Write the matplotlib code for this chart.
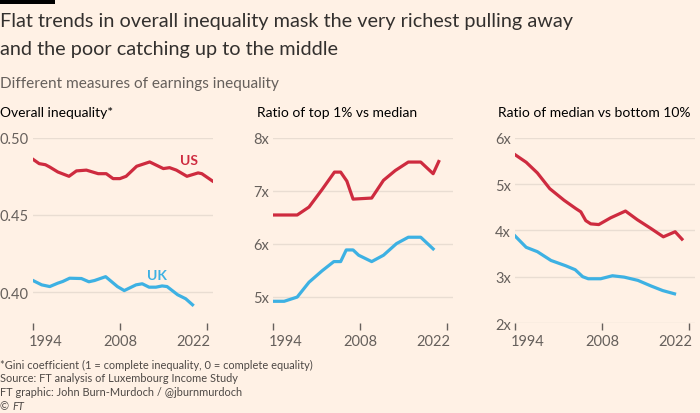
import matplotlib.pyplot as plt
from matplotlib.patches import Rectangle
from matplotlib.transforms import ScaledTranslation

# colours
bg = "#FFF1E5"
red = "#CE2B3F"
blue = "#3DB1E3"
grey = "#66605C"
gridc = "#E9DDD2"

plt.rcParams['font.family'] = ['Lato', 'DejaVu Sans']

# Overall inequality (Gini)
gini_us_years = [1994, 1995, 1996, 1996.7, 1998, 1999.8, 2001, 2002.6, 2004.5, 2005.8, 2006.9,
                 2008, 2009, 2010.7, 2012.8, 2015, 2016, 2017.1, 2018.8, 2020.6, 2021.2, 2022.9]
gini_us = [0.486, 0.4832, 0.4825, 0.481, 0.4778, 0.475, 0.4785, 0.479, 0.4767, 0.4767, 0.4735,
           0.4735, 0.475, 0.4815, 0.4843, 0.480, 0.4806, 0.479, 0.475, 0.4772, 0.4767, 0.472]
gini_uk_years = [1994, 1995.4, 1996.7, 1998, 1998.8, 1999.9, 2001.8, 2003, 2003.9, 2005.7, 2007.6,
                 2008.7, 2010.6, 2011.6, 2012.7, 2013.8, 2014.8, 2015.6, 2017.3, 2018.6, 2019.7]
gini_uk = [0.4075, 0.4047, 0.4036, 0.4058, 0.4069, 0.409, 0.4088, 0.4067, 0.4075, 0.410, 0.4036,
           0.401, 0.4047, 0.4054, 0.4032, 0.4032, 0.404, 0.4036, 0.3983, 0.3957, 0.3918]

# Ratio of top 1% vs median
top_us_years = [1994, 1997.9, 1999.8, 2001.9, 2003.9, 2004.9, 2005.9, 2006.9, 2009.9, 2011.8,
                2013.7, 2015.8, 2017.8, 2019.8, 2020.7]
top_us = [6.54, 6.54, 6.69, 7.02, 7.35, 7.35, 7.18, 6.84, 6.86, 7.195, 7.38, 7.54, 7.54, 7.32, 7.55]
top_uk_years = [1994, 1995.8, 1997.9, 1999.8, 2001.9, 2003.8, 2004.9, 2005.8, 2006.9, 2007.8,
                2009.9, 2011.8, 2013.9, 2015.8, 2017.8, 2019.8]
top_uk = [4.91, 4.91, 4.99, 5.27, 5.485, 5.66, 5.66, 5.88, 5.88, 5.78, 5.66, 5.78, 6.0, 6.12, 6.12, 5.90]

# Ratio of median vs bottom 10%
bot_us_years = [1994, 1995.8, 1997.6, 1999.6, 2001.9, 2003.8, 2004.6, 2005.4, 2006.2, 2007.5,
                2009.4, 2011.8, 2013.7, 2015.9, 2017.9, 2019.8, 2020.9]
bot_us = [5.634, 5.47, 5.24, 4.90, 4.65, 4.47, 4.40, 4.21, 4.14, 4.125, 4.27, 4.417, 4.23, 4.04,
          3.86, 3.97, 3.81]
bot_uk_years = [1994, 1995.8, 1997.6, 1999.8, 2002.2, 2003.7, 2004.9, 2005.8, 2007.8, 2009.7,
                2011.6, 2013.8, 2015.9, 2017.8, 2019.7]
bot_uk = [3.88, 3.634, 3.54, 3.35, 3.234, 3.15, 3.00, 2.955, 2.955, 3.02, 2.99, 2.92, 2.80, 2.70, 2.63]

xticks = [1994, 2008, 2022]

panels = [
    dict(left=33, title="Overall inequality*", tx=0, ylim=(0.38, 0.50),
         yticks=[0.40, 0.45, 0.50], ylabels=["0.40", "0.45", "0.50"],
         us=(gini_us_years, gini_us), uk=(gini_uk_years, gini_uk)),
    dict(left=273, title="Ratio of top 1% vs median", tx=257, ylim=(4.5, 8),
         yticks=[5, 6, 7, 8], ylabels=["5x", "6x", "7x", "8x"],
         us=(top_us_years, top_us), uk=(top_uk_years, top_uk)),
    dict(left=515, title="Ratio of median vs bottom 10%", tx=498, ylim=(2, 6),
         yticks=[2, 3, 4, 5, 6], ylabels=["2x", "3x", "4x", "5x", "6x"],
         us=(bot_us_years, bot_us), uk=(bot_uk_years, bot_uk)),
]

W, H = 700, 414
fig = plt.figure(figsize=(7, 4.14), dpi=100, facecolor=bg)

axes = []
for p in panels:
    ax = fig.add_axes([p['left'] / W, 1 - 324 / H, 180 / W, (324 - 138.7) / H])
    ax.set_facecolor(bg)
    ax.plot(*p['us'], color=red, lw=2.3, solid_joinstyle='round', zorder=3)
    ax.plot(*p['uk'], color=blue, lw=2.3, solid_joinstyle='round', zorder=3)
    ax.set_xlim(1994, 2023)
    ax.set_ylim(*p['ylim'])
    ax.set_yticks(p['yticks'])
    ax.set_yticklabels(p['ylabels'])
    ax.set_xticks(xticks)
    ax.set_xticklabels([str(x) for x in xticks])
    for s in ax.spines.values():
        s.set_visible(False)
    ax.grid(axis='y', color=gridc, lw=1)
    ax.set_axisbelow(True)
    ax.tick_params(axis='y', length=0, pad=3, labelsize=10.5, labelcolor=grey)
    ax.tick_params(axis='x', length=5, width=1, color=grey, pad=3, labelsize=10.5,
                   labelcolor=grey)
    # first and last year labels are pulled inward
    ticks = ax.xaxis.get_major_ticks()
    first, last = ticks[0].label1, ticks[-1].label1
    first.set_horizontalalignment('left')
    first.set_transform(first.get_transform() + ScaledTranslation(-0.04, 0, fig.dpi_scale_trans))
    last.set_horizontalalignment('right')
    last.set_transform(last.get_transform() + ScaledTranslation(0.04, 0, fig.dpi_scale_trans))
    fig.text(p['tx'] / W, 1 - 113 / H, p['title'], fontsize=10, color='black', va='center',
             ha='left')
    axes.append(ax)

axes[0].text(2019.2, 0.4856, "US", color=red, fontsize=10, ha='center', va='center',
             fontweight='bold')
axes[0].text(2013.9, 0.4113, "UK", color=blue, fontsize=10, ha='center', va='center',
             fontweight='bold')

# header
fig.patches.append(Rectangle((0, 1 - 5 / H), 55 / W, 5 / H, transform=fig.transFigure,
                             facecolor='black', edgecolor='none'))
fig.text(0, 1 - 22 / H, "Flat trends in overall inequality mask the very richest pulling away",
         fontsize=14.35, color='#33302E', va='center')
fig.text(0, 1 - 50 / H, "and the poor catching up to the middle",
         fontsize=14.35, color='#33302E', va='center')
fig.text(0, 1 - 84 / H, "Different measures of earnings inequality",
         fontsize=11.1, color=grey, va='center')

# footer
notes = ["*Gini coefficient (1 = complete inequality, 0 = complete equality)",
         "Source: FT analysis of Luxembourg Income Study",
         "FT graphic: John Burn-Murdoch / @jburnmurdoch"]
for i, n in enumerate(notes):
    fig.text(0, 1 - (365 + 14 * i) / H, n, fontsize=7.9, color='#4D4845', va='center')
fig.text(0, 1 - 407 / H, "\u00a9", fontsize=7.9, color='#4D4845', va='center')
fig.text(12 / W, 1 - 407 / H, "FT", fontsize=7.9, color='#4D4845', va='center', style='italic')

fig.savefig("out.png", dpi=100, facecolor=bg)
